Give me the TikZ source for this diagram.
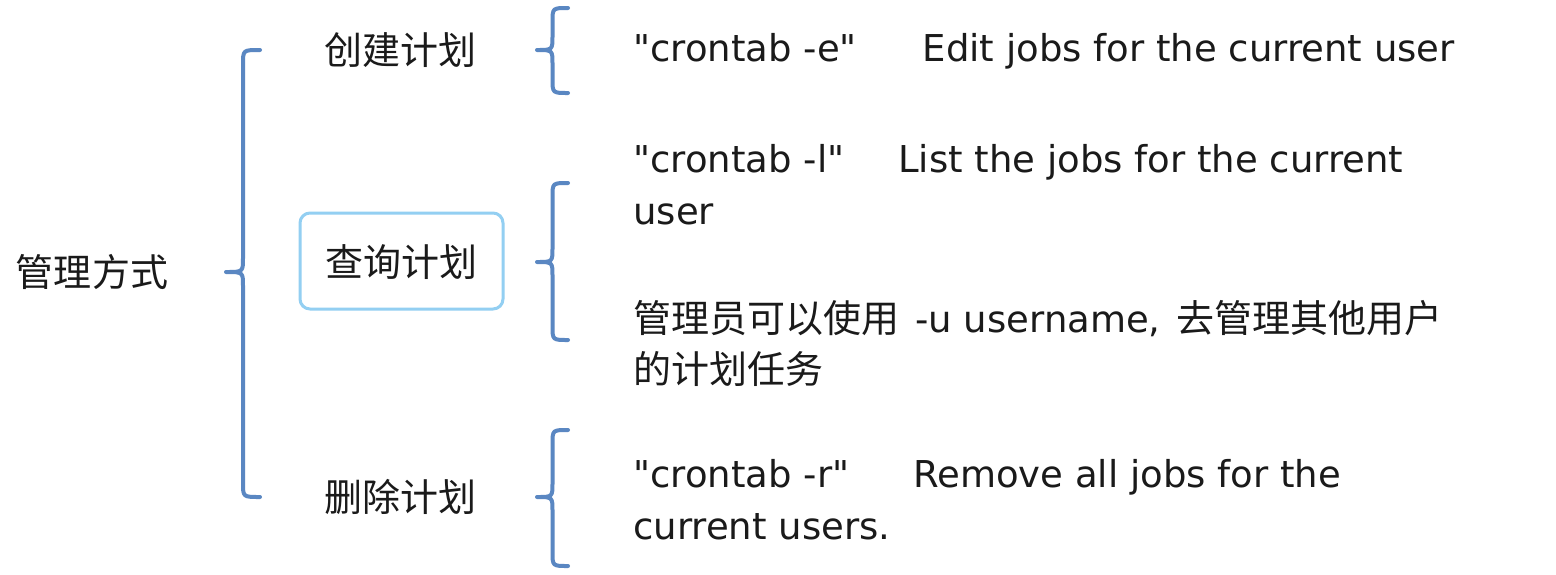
\documentclass[tikz,border=0pt]{standalone}
\usepackage{fontspec}
\setmainfont{DejaVu Sans}
\newfontfamily\cjk{Noto Sans CJK SC}
\definecolor{bracecol}{HTML}{5A87C2}
\definecolor{boxcol}{HTML}{93CFF2}
\definecolor{txtcol}{HTML}{1A1A1A}
\newcommand\cbrace[5]{% tip x, width, top y, mid y, bottom y
  \draw[bracestyle] ({#1+#2},#3) .. controls ({#1+0.5*#2},#3) .. ({#1+0.5*#2},{#3+14})
    -- ({#1+0.5*#2},{#4-14}) .. controls ({#1+0.5*#2},#4) .. (#1,#4)
    .. controls ({#1+0.5*#2},#4) .. ({#1+0.5*#2},{#4+14})
    -- ({#1+0.5*#2},{#5-14}) .. controls ({#1+0.5*#2},#5) .. ({#1+#2},#5);}
\newcommand\dq{\textquotedbl}
\tikzset{
  bracestyle/.style={draw=bracecol,line width=2pt,line cap=round,line join=round},
  cjklabel/.style={font=\cjk\fontsize{19}{26}\selectfont,text=txtcol,inner sep=0pt},
  desc/.style={font=\fontsize{18.5}{26}\selectfont,text=txtcol,inner sep=0pt,anchor=west,align=left},
  selbox/.style={draw=boxcol,line width=1.5pt,rounded corners=5pt,fill=white}
}
\begin{document}
\begin{tikzpicture}[x=0.5pt,y=-0.5pt]
\useasboundingbox[fill=white] (0,0) rectangle (1556,574);
% root
\node[cjklabel] (root) at (92,272) {管理方式};
\cbrace{226}{34}{50}{272}{497}
% level 1
\node[cjklabel] (create) at (400,50) {创建计划};
\draw[selbox] (300,213) rectangle (503,309);
\node[cjklabel] (query) at (401,262) {查询计划};
\node[cjklabel] (delete) at (400,497) {删除计划};
% level 2 braces
\cbrace{537}{31}{8}{50}{93}
\cbrace{537}{31}{183}{262}{340}
\cbrace{537}{31}{430}{497}{566}
% descriptions
\node[desc] (d1) at (633,51) {\dq crontab -e\dq\hspace{33pt}Edit jobs for the current user};
\node[desc] (d2) at (633,185) {\dq crontab -l\dq\hspace{27pt}List the jobs for the current\\user};
\node[desc,font=\cjk\fontsize{19}{25.5}\selectfont] (d3) at (633,343) {管理员可以使用\hspace{8pt}{\fontspec{DejaVu Sans}\fontsize{18.5}{25.5}\selectfont -u username,}\hspace{8pt}去管理其他用户\\的计划任务};
\node[desc] (d4) at (633,500) {\dq crontab -r\dq\hspace{32pt}Remove all jobs for the\\current users.};
\end{tikzpicture}
\end{document}
